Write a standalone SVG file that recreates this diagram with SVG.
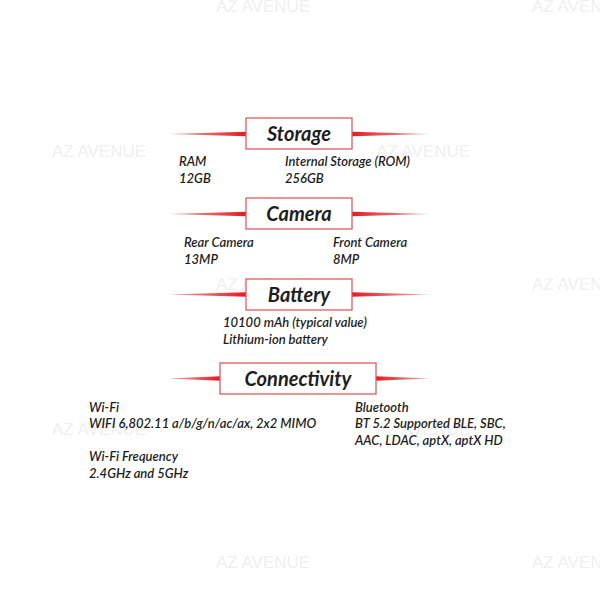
<svg xmlns="http://www.w3.org/2000/svg" width="600" height="600" viewBox="0 0 600 600">
<style>
.wm{font-family:"Liberation Sans",Arial,sans-serif;font-size:17px;fill:#f0f0f0}
.box{fill:#fff;stroke:#e05a5e;stroke-width:1.3}
.h{font-family:Lato,"Liberation Sans",sans-serif;font-style:italic;font-weight:bold;font-size:20px;fill:#1e1e1e;text-anchor:middle}
.t{font-family:Lato,"Liberation Sans",sans-serif;font-style:italic;font-weight:600;font-size:13px;fill:#1e1e1e}
.ln{fill:url(#gl)}
.rn{fill:url(#gr)}
</style>
<defs>
<linearGradient id="gl" x1="0" y1="0" x2="1" y2="0">
<stop offset="0" stop-color="#e8242c" stop-opacity="0.4"/>
<stop offset="1" stop-color="#e21b23"/>
</linearGradient>
<linearGradient id="gr" x1="0" y1="0" x2="1" y2="0">
<stop offset="0" stop-color="#e21b23"/>
<stop offset="1" stop-color="#e8242c" stop-opacity="0.4"/>
</linearGradient>
</defs>
<rect width="600" height="600" fill="#fff"/>
<g id="watermarks">
<text class="wm" x="216" y="12">AZ AVENUE</text>
<text class="wm" x="532" y="12">AZ AVENUE</text>
<text class="wm" x="-100" y="12">AZ AVENUE</text>
<text class="wm" x="52" y="157">AZ AVENUE</text>
<text class="wm" x="376" y="157">AZ AVENUE</text>
<text class="wm" x="216" y="290">AZ AVENUE</text>
<text class="wm" x="532" y="290">AZ AVENUE</text>
<text class="wm" x="-100" y="290">AZ AVENUE</text>
<text class="wm" x="52" y="435">AZ AVENUE</text>
<text class="wm" x="376" y="435">AZ AVENUE</text>
<text class="wm" x="216" y="568">AZ AVENUE</text>
<text class="wm" x="532" y="568">AZ AVENUE</text>
<text class="wm" x="-100" y="568">AZ AVENUE</text>
</g>
<g id="connectors">
<polygon class="ln" points="168,134 246,131.8 246,136.2"/>
<polygon class="rn" points="352,131.8 430,134 352,136.2"/>
<polygon class="ln" points="168,214 246,211.8 246,216.2"/>
<polygon class="rn" points="352,211.8 430,214 352,216.2"/>
<polygon class="ln" points="168,294.5 246,292.3 246,296.7"/>
<polygon class="rn" points="352,292.3 430,294.5 352,296.7"/>
<polygon class="ln" points="168,378.5 220,376.3 220,380.7"/>
<polygon class="rn" points="376,376.3 430,378.5 376,380.7"/>
</g>
<g id="storage">
<rect class="box" x="246" y="118" width="106" height="31"/>
<text class="h" x="299" y="141">Storage</text>
<text class="t" x="179" y="166">RAM</text>
<text class="t" x="179" y="183">12GB</text>
<text class="t" x="285" y="166">Internal Storage (ROM)</text>
<text class="t" x="285" y="183">256GB</text>
</g>
<g id="camera">
<rect class="box" x="246" y="198" width="106" height="31"/>
<text class="h" x="299" y="221">Camera</text>
<text class="t" x="184" y="247">Rear Camera</text>
<text class="t" x="184" y="264">13MP</text>
<text class="t" x="333" y="247">Front Camera</text>
<text class="t" x="333" y="264">8MP</text>
</g>
<g id="battery">
<rect class="box" x="246" y="279" width="106" height="31"/>
<text class="h" x="299" y="302">Battery</text>
<text class="t" x="223" y="327">10100 mAh (typical value)</text>
<text class="t" x="223" y="344">Lithium-ion battery</text>
</g>
<g id="connectivity">
<rect class="box" x="220" y="363" width="156" height="31"/>
<text class="h" x="298" y="386">Connectivity</text>
<text class="t" x="89" y="412">Wi-Fi</text>
<text class="t" x="89" y="428">WIFI 6,802.11 a/b/g/n/ac/ax, 2x2 MIMO</text>
<text class="t" x="89" y="461">Wi-Fi Frequency</text>
<text class="t" x="89" y="478">2.4GHz and 5GHz</text>
<text class="t" x="355" y="412">Bluetooth</text>
<text class="t" x="355" y="428">BT 5.2 Supported BLE, SBC,</text>
<text class="t" x="355" y="445">AAC, LDAC, aptX, aptX HD</text>
</g>
</svg>
